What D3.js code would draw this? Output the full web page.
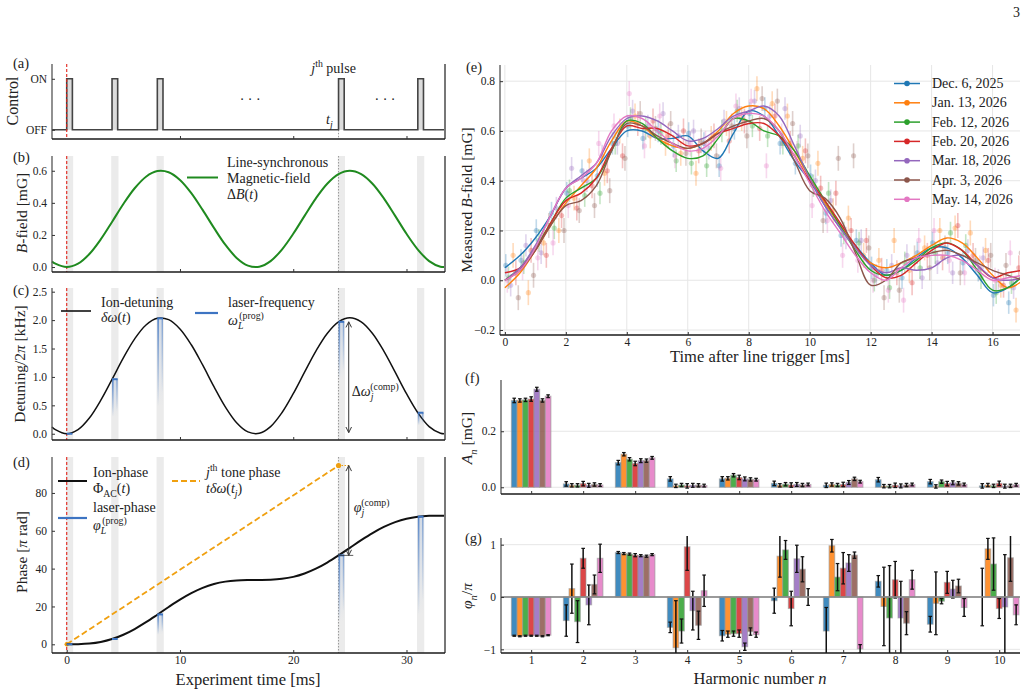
<!DOCTYPE html>
<html>
<head>
<meta charset="utf-8">
<script src="https://cdn.jsdelivr.net/npm/d3@7"></script>
<style>
  body { margin: 0; background: #fff; }
  svg text { font-family: "Liberation Serif", "DejaVu Serif", serif; fill: #222; }
</style>
</head>
<body>
<svg id="fig" width="1029" height="694"></svg>
<script>
// ---------------- data: left column (a)-(d) ----------------
var pulseStarts = [0, 4, 8, 24, 31];          // ms
var pulseWidth = 0.5;                          // ms
var controlTicks = [0, 1];
var controlLabels = ["OFF", "ON"];
var jPulseTime = 24;
var arrowTime = 24.9;

var timeGrid = [-1.3, -1, 0, 1, 2, 3, 4, 5, 6, 7, 8, 9, 10, 11, 12, 13, 14, 15, 16,
  17, 18, 19, 20, 21, 22, 23, 24, 25, 26, 27, 28, 29, 30, 31, 32, 33, 33.4];
var bField = [0.035, 0.021, 0.000, 0.021, 0.081, 0.172, 0.281, 0.393, 0.491, 0.563, 0.598,
  0.591, 0.543, 0.461, 0.356, 0.244, 0.139, 0.057, 0.009, 0.002, 0.037, 0.109, 0.207, 0.319,
  0.428, 0.519, 0.579, 0.600, 0.579, 0.519, 0.428, 0.319, 0.207, 0.109, 0.037, 0.002, 0.000];
var ionDetuning = [0.120, 0.072, 0.000, 0.072, 0.276, 0.586, 0.956, 1.335, 1.670, 1.914, 2.032,
  2.008, 1.845, 1.566, 1.211, 0.829, 0.474, 0.195, 0.032, 0.008, 0.126, 0.370, 0.705, 1.084,
  1.454, 1.764, 1.968, 2.040, 1.968, 1.764, 1.454, 1.084, 0.705, 0.370, 0.126, 0.008, 0.000];
var phaseTime = [0, 1, 2, 3, 4, 5, 6, 7, 8, 9, 10, 11, 12, 13, 14, 15, 16, 17, 18, 19, 20,
  21, 22, 23, 24, 25, 26, 27, 28, 29, 30, 31, 32, 33, 33.4];
var ionPhase = [0, 0.05, 0.38, 1.22, 2.76, 5.05, 8.07, 11.67, 15.64, 19.71, 23.58, 27.01,
  29.80, 31.84, 33.13, 33.78, 33.99, 34.00, 34.11, 34.59, 35.65, 37.44, 39.98, 43.22, 46.97,
  51.00, 55.03, 58.78, 62.02, 64.56, 66.35, 67.41, 67.89, 68.00, 68.00];

var laserFreq = [0.00, 0.96, 2.03, 1.97, 0.37];        // kHz at each pulse
var laserFreqFadeTo = [0.00, 0.30, 0.48, 0.95, 0.15];
var laserPhase = [0.0, 2.8, 15.8, 47.0, 67.5];         // pi rad at each pulse
var laserPhaseFadeTo = [0.0, 2.5, 5.0, 12.0, 15.5];
var toneTime = [0, 24];
var tonePhase = [0, 94.5];

// ---------------- data: (e) measured B-field ----------------
var dates = ["Dec. 6, 2025", "Jan. 13, 2026", "Feb. 12, 2026", "Feb. 20, 2026",
  "Mar. 18, 2026", "Apr. 3, 2026", "May. 14, 2026"];
var fitTime = [0, 0.5, 1, 1.5, 2, 2.5, 3, 3.5, 4, 4.5, 5, 5.5, 6, 6.5, 7, 7.5, 8, 8.5, 9,
  9.5, 10, 10.5, 11, 11.5, 12, 12.5, 13, 13.5, 14, 14.5, 15, 15.5, 16, 16.5, 17];
var fitDec06 = [0.05, 0.10, 0.17, 0.26, 0.37, 0.41, 0.45, 0.53, 0.60, 0.60, 0.57, 0.57, 0.58,
  0.52, 0.49, 0.59, 0.68, 0.66, 0.58, 0.48, 0.40, 0.30, 0.21, 0.14, 0.07, 0.02, 0.04, 0.09,
  0.13, 0.13, 0.09, 0.02, -0.05, -0.03, 0.02];
var fitJan13 = [-0.03, 0.03, 0.12, 0.22, 0.31, 0.38, 0.45, 0.56, 0.64, 0.62, 0.57, 0.54, 0.53,
  0.55, 0.60, 0.67, 0.70, 0.69, 0.62, 0.52, 0.41, 0.31, 0.22, 0.13, 0.07, 0.05, 0.07, 0.10,
  0.14, 0.17, 0.15, 0.09, 0.02, -0.03, 0.00];
var fitFeb12 = [0.00, 0.05, 0.13, 0.23, 0.33, 0.37, 0.41, 0.52, 0.64, 0.63, 0.57, 0.52, 0.49,
  0.50, 0.57, 0.65, 0.64, 0.60, 0.58, 0.52, 0.42, 0.32, 0.22, 0.12, 0.04, 0.02, 0.04, 0.08,
  0.13, 0.15, 0.12, 0.04, -0.04, -0.03, 0.02];
var fitFeb20 = [0.03, 0.05, 0.12, 0.23, 0.32, 0.35, 0.41, 0.53, 0.62, 0.61, 0.61, 0.58, 0.54,
  0.55, 0.59, 0.61, 0.63, 0.63, 0.58, 0.50, 0.40, 0.32, 0.23, 0.14, 0.06, 0.01, 0.02, 0.07,
  0.12, 0.15, 0.12, 0.06, 0.01, 0.03, 0.04];
var fitMar18 = [0.00, 0.05, 0.14, 0.26, 0.37, 0.42, 0.47, 0.58, 0.65, 0.66, 0.64, 0.60, 0.56,
  0.57, 0.61, 0.66, 0.68, 0.70, 0.66, 0.54, 0.41, 0.30, 0.21, 0.13, 0.06, 0.03, 0.05, 0.04,
  0.05, 0.09, 0.10, 0.06, 0.01, 0.00, 0.01];
var fitApr03 = [0.00, 0.04, 0.12, 0.22, 0.30, 0.32, 0.38, 0.52, 0.63, 0.62, 0.58, 0.55, 0.53,
  0.55, 0.59, 0.62, 0.64, 0.65, 0.60, 0.48, 0.36, 0.33, 0.25, 0.11, -0.02, 0.00, 0.07, 0.09,
  0.11, 0.12, 0.10, 0.07, 0.04, 0.02, 0.00];
var fitMay14 = [0.00, 0.04, 0.13, 0.26, 0.37, 0.41, 0.47, 0.60, 0.66, 0.65, 0.60, 0.55, 0.52,
  0.53, 0.58, 0.65, 0.67, 0.66, 0.60, 0.50, 0.39, 0.28, 0.19, 0.10, 0.03, 0.00, 0.05, 0.09,
  0.10, 0.10, 0.08, 0.04, 0.00, 0.01, 0.02];

var scatterShift = [0.03, 0.27, 0.12, 0.36, 0.19, 0.44, 0.08];   // ms
var scatterErr = [0.045, 0.05, 0.045, 0.05, 0.045, 0.05, 0.05];
var measDec06 = [0.06, 0.08, 0.20, 0.27, 0.35, 0.44, 0.42, 0.55, 0.62, 0.57, 0.60, 0.54, 0.59,
  0.55, 0.46, 0.61, 0.67, 0.69, 0.55, 0.47, 0.42, 0.27, 0.18, 0.16, 0.05, 0.04, 0.01, 0.11,
  0.15, 0.11, 0.07, 0.04, -0.06, -0.09, 0.03];
var measJan13 = [0.10, -0.05, 0.15, 0.20, 0.33, 0.48, 0.43, 0.60, 0.66, 0.58, 0.55, 0.51, 0.43,
  0.57, 0.63, 0.65, 0.77, 0.71, 0.66, 0.49, 0.47, 0.28, 0.25, 0.10, 0.08, 0.16, 0.04, 0.13,
  0.20, 0.21, 0.19, 0.12, -0.02, -0.12, 0.03];
var measFeb12 = [0.01, 0.07, 0.16, 0.21, 0.36, 0.34, 0.35, 0.55, 0.65, 0.61, 0.59, 0.48, 0.47,
  0.46, 0.60, 0.68, 0.62, 0.58, 0.55, 0.54, 0.38, 0.35, 0.19, 0.15, 0.00, -0.03, 0.07, 0.05,
  0.11, 0.19, 0.14, 0.01, -0.05, -0.01, 0.07];
var measFeb20 = [0.03, 0.12, 0.10, 0.26, 0.29, 0.38, 0.44, 0.50, 0.63, 0.64, 0.58, 0.60, 0.52,
  0.58, 0.56, 0.64, 0.61, 0.66, 0.55, 0.52, 0.37, 0.35, 0.20, 0.16, 0.04, 0.03, -0.01, 0.10,
  0.09, 0.22, 0.10, 0.08, -0.02, 0.05, 0.04];
var measMar18 = [-0.02, 0.14, 0.11, 0.29, 0.45, 0.40, 0.50, 0.55, 0.68, 0.62, 0.67, 0.58, 0.60,
  0.53, 0.64, 0.69, 0.72, 0.66, 0.69, 0.58, 0.40, 0.32, 0.17, 0.16, 0.02, 0.06, 0.10, 0.01,
  0.07, 0.03, 0.12, 0.09, 0.00, -0.03, 0.05];
var measApr03 = [-0.07, 0.02, 0.22, 0.20, 0.28, 0.30, 0.36, 0.49, 0.67, 0.61, 0.63, 0.51, 0.56,
  0.50, 0.62, 0.58, 0.73, 0.72, 0.63, 0.50, 0.24, 0.49, 0.50, 0.13, -0.07, -0.04, 0.09, 0.05,
  0.13, 0.03, 0.08, 0.10, 0.06, 0.11, 0.00];
var measMay14 = [0.00, 0.05, 0.09, 0.15, 0.30, 0.40, 0.55, 0.62, 0.75, 0.54, 0.66, 0.50, 0.55,
  0.55, 0.45, 0.70, 0.72, 0.46, 0.58, 0.51, 0.30, 0.24, 0.10, 0.08, 0.00, -0.04, -0.08, 0.16,
  0.20, 0.08, 0.03, 0.05, 0.00, 0.11, -0.05];

var fits = [fitDec06, fitJan13, fitFeb12, fitFeb20, fitMar18, fitApr03, fitMay14];
var meas = [measDec06, measJan13, measFeb12, measFeb20, measMar18, measApr03, measMay14];

// ---------------- data: (f) amplitudes, (g) phases ----------------
var harmonics = [1, 2, 3, 4, 5, 6, 7, 8, 9, 10];
var ampValues = [
  [0.310, 0.012, 0.088, 0.030, 0.030, 0.014, 0.007, 0.027, 0.020, 0.005],
  [0.310, 0.007, 0.118, 0.005, 0.032, 0.007, 0.010, 0.004, 0.003, 0.008],
  [0.312, 0.007, 0.100, 0.008, 0.043, 0.011, 0.008, 0.004, 0.020, 0.005],
  [0.315, 0.013, 0.085, 0.005, 0.035, 0.008, 0.010, 0.007, 0.013, 0.014],
  [0.350, 0.007, 0.095, 0.007, 0.030, 0.010, 0.017, 0.005, 0.016, 0.004],
  [0.310, 0.010, 0.095, 0.007, 0.028, 0.008, 0.030, 0.008, 0.014, 0.005],
  [0.325, 0.008, 0.105, 0.006, 0.027, 0.010, 0.020, 0.010, 0.010, 0.009]
];
var ampErr = [0.008, 0.006, 0.006, 0.008, 0.007, 0.006, 0.005];
var phaseValues = [
  [-0.74, -0.45, 0.85, -0.58, -0.74, -0.07, -0.65, 0.30, -0.52, 0.00],
  [-0.75, 0.16, 0.83, -0.97, -0.71, 0.78, 0.98, -0.18, -0.12, 0.92],
  [-0.74, -0.47, 0.82, -0.65, -0.70, 0.90, 0.38, -0.40, -0.08, 0.63],
  [-0.74, 0.74, 0.80, 0.96, -0.70, -0.22, 0.55, 0.33, 0.28, -0.22],
  [-0.74, -0.15, 0.79, -0.26, -0.95, 0.73, 0.65, -0.40, 0.15, -0.19],
  [-0.75, 0.24, 0.78, -0.54, -0.66, 0.53, 0.80, -0.50, 0.21, 0.75],
  [-0.73, 0.74, 0.81, 0.12, -0.72, 0.00, -0.99, 0.33, -0.20, -0.34]
];
var phaseErr = [
  [0.01, 0.30, 0.02, 0.10, 0.10, 0.24, 0.45, 0.11, 0.15, 0.55],
  [0.01, 0.47, 0.02, 0.90, 0.06, 0.40, 0.12, 0.75, 0.60, 0.20],
  [0.01, 0.40, 0.02, 0.23, 0.05, 0.18, 0.26, 1.00, 0.05, 0.50],
  [0.01, 0.19, 0.03, 0.45, 0.07, 0.33, 0.30, 0.35, 0.21, 0.19],
  [0.01, 0.38, 0.02, 0.37, 0.07, 0.26, 0.16, 0.70, 0.17, 1.00],
  [0.01, 0.18, 0.02, 0.27, 0.07, 0.24, 0.06, 0.22, 0.13, 0.45],
  [0.01, 0.27, 0.02, 0.30, 0.05, 0.16, 0.08, 0.18, 0.17, 0.19]
];

// ---------------- drawing ----------------
var colors = d3.schemeCategory10.slice(0, 7);
var BLUE = "#3d74c2";
var svg = d3.select("#fig");
svg.append("rect").attr("width", 1029).attr("height", 694).attr("fill", "#fff");
var defs = svg.append("defs");

var fade = defs.append("linearGradient").attr("id", "blueFade")
  .attr("x1", 0).attr("y1", 0).attr("x2", 0).attr("y2", 1);
fade.append("stop").attr("offset", 0).attr("stop-color", BLUE).attr("stop-opacity", 0.14);
fade.append("stop").attr("offset", 1).attr("stop-color", BLUE).attr("stop-opacity", 0);
var fadeLeg = defs.append("linearGradient").attr("id", "blueLeg")
  .attr("x1", 0).attr("y1", 0).attr("x2", 0).attr("y2", 1);
fadeLeg.append("stop").attr("offset", 0).attr("stop-color", BLUE).attr("stop-opacity", 0.8);
fadeLeg.append("stop").attr("offset", 1).attr("stop-color", BLUE).attr("stop-opacity", 0);

defs.append("marker").attr("id", "arrow").attr("viewBox", "0 0 10 10")
  .attr("refX", 9).attr("refY", 5).attr("markerWidth", 7).attr("markerHeight", 7)
  .attr("orient", "auto-start-reverse")
  .append("path").attr("d", "M1,1 L9,5 L1,9").attr("fill", "none").attr("stroke", "#333").attr("stroke-width", 1.4);

function rich(g, x, y, parts, o) {
  o = o || {};
  var fs = o.size || 14;
  var t = g.append("text").attr("x", x).attr("y", y)
    .style("font-size", fs + "px")
    .attr("text-anchor", o.anchor || "start");
  if (o.rotate) t.attr("transform", "rotate(-90," + x + "," + y + ")");
  var shift = 0;
  parts.forEach(function (p) {
    var kind = p[1] || "";
    var s = t.append("tspan").text(p[0]);
    var target = 0;
    if (kind.indexOf("sub") >= 0) target = 0.3;
    if (kind.indexOf("sup") >= 0) target = -0.42;
    var dy = (target - shift) * fs;
    if (dy) s.attr("dy", dy);
    shift = target;
    if (target) s.style("font-size", (fs * 0.7) + "px");
    if (kind === "i" || kind === "subi" || kind === "supi") s.style("font-style", "italic");
    if (p[2]) s.attr("dx", p[2]);
  });
  return t;
}

function spines(g, x0, x1, top, bottom, right) {
  g.append("line").attr("x1", x0).attr("x2", x0).attr("y1", top).attr("y2", bottom)
    .attr("stroke", "#555").attr("stroke-width", 1.3);
  if (right) g.append("line").attr("x1", x1).attr("x2", x1).attr("y1", top).attr("y2", bottom)
    .attr("stroke", "#777").attr("stroke-width", 2);
  g.append("line").attr("x1", x0).attr("x2", x1).attr("y1", bottom).attr("y2", bottom)
    .attr("stroke", "#1a1a1a").attr("stroke-width", 1.6);
}

function yAxis(g, y, x0, ticks, fmt) {
  var a = g.append("g").attr("transform", "translate(" + x0 + ",0)")
    .call(d3.axisLeft(y).tickValues(ticks).tickFormat(fmt).tickSize(-3).tickPadding(5));
  a.select(".domain").remove();
  a.selectAll("text").style("font-size", "11.5px");
  a.selectAll("line").attr("stroke", "#333");
  return a;
}

function xAxis(g, x, yPos, ticks, fmt, withLabels) {
  var a = g.append("g").attr("transform", "translate(0," + yPos + ")")
    .call(d3.axisBottom(x).tickValues(ticks).tickFormat(withLabels ? fmt : "").tickSize(-3).tickPadding(3));
  a.select(".domain").remove();
  a.selectAll("text").style("font-size", "11.5px");
  a.selectAll("line").attr("stroke", "#333");
  return a;
}

function clip(id, x0, x1, top, bottom) {
  defs.append("clipPath").attr("id", id).append("rect")
    .attr("x", x0).attr("y", top).attr("width", x1 - x0).attr("height", bottom - top);
  return "url(#" + id + ")";
}

// left column geometry
var LX0 = 52, LX1 = 445;
var xL = d3.scaleLinear().domain([-1.3, 33.4]).range([LX0, LX1]);
var PA = { top: 64, bottom: 139 }, PB = { top: 156, bottom: 272 },
    PC = { top: 288, bottom: 440 }, PD = { top: 457, bottom: 653 };
var yA = d3.scaleLinear().domain([-0.18, 1.29]).range([PA.bottom, PA.top]);
var yB = d3.scaleLinear().domain([-0.031, 0.692]).range([PB.bottom, PB.top]);
var yC = d3.scaleLinear().domain([-0.11, 2.565]).range([PC.bottom, PC.top]);
var yD = d3.scaleLinear().domain([-4.6, 99]).range([PD.bottom, PD.top]);

function bands(g, P) {
  g.selectAll(".band").data(pulseStarts).enter().append("rect")
    .attr("x", function (d) { return xL(d - 0.07); })
    .attr("width", xL(pulseWidth + 0.14) - xL(0))
    .attr("y", P.top).attr("height", P.bottom - P.top)
    .attr("fill", "#ebebeb");
}
function markers(g, P) {
  g.append("line").attr("x1", xL(jPulseTime)).attr("x2", xL(jPulseTime))
    .attr("y1", P.top).attr("y2", P.bottom)
    .attr("stroke", "#999").attr("stroke-width", 1).attr("stroke-dasharray", "1.5,1.5");
  g.append("line").attr("x1", xL(0)).attr("x2", xL(0))
    .attr("y1", P.top).attr("y2", P.bottom)
    .attr("stroke", "#e2231a").attr("stroke-width", 1.1).attr("stroke-dasharray", "3,2");
}
var smooth = d3.curveCatmullRom.alpha(0.5);

// ---- (a) control ----
var gA = svg.append("g");
gA.append("line").attr("x1", xL(jPulseTime)).attr("x2", xL(jPulseTime))
  .attr("y1", yA(0)).attr("y2", PA.bottom)
  .attr("stroke", "#999").attr("stroke-dasharray", "1.5,1.5");
gA.selectAll(".pulse").data(pulseStarts).enter().append("rect")
  .attr("x", function (d) { return xL(d); }).attr("width", xL(pulseWidth) - xL(0))
  .attr("y", yA(1)).attr("height", yA(0) - yA(1)).attr("fill", "#dcdcdc");
var stepPts = [[xL.domain()[0], 0]];
pulseStarts.forEach(function (s) {
  stepPts.push([s, 0], [s, 1], [s + pulseWidth, 1], [s + pulseWidth, 0]);
});
stepPts.push([xL.domain()[1], 0]);
gA.append("path").datum(stepPts)
  .attr("d", d3.line().x(function (d) { return xL(d[0]); }).y(function (d) { return yA(d[1]); }))
  .attr("fill", "none").attr("stroke", "#444").attr("stroke-width", 1.6);
spines(gA, LX0, LX1, PA.top, PA.bottom, true);
yAxis(gA, yA, LX0, controlTicks, function (d, i) { return controlLabels[i]; });
xAxis(gA, xL, PA.bottom, [10, 20, 30], null, false);
gA.append("line").attr("x1", xL(0)).attr("x2", xL(0)).attr("y1", PA.top).attr("y2", PA.bottom)
  .attr("stroke", "#e2231a").attr("stroke-width", 1.1).attr("stroke-dasharray", "3,2");
rich(gA, xL(21.6), yA(1.12), [["j", "i"], ["th", "sup"], [" pulse", ""]], { size: 14 });
rich(gA, xL(22.9), yA(0.11), [["t", "i"], ["j", "subi"]], { size: 14 });
rich(gA, xL(16.2), yA(0.5), [["· · ·", ""]], { size: 14, anchor: "middle" });
rich(gA, xL(28.1), yA(0.5), [["· · ·", ""]], { size: 14, anchor: "middle" });

// ---- (b) B-field ----
var gB = svg.append("g");
bands(gB, PB);
markers(gB, PB);
gB.append("path").datum(timeGrid.map(function (t, i) { return [t, bField[i]]; }))
  .attr("d", d3.line().curve(smooth).x(function (d) { return xL(d[0]); }).y(function (d) { return yB(d[1]); }))
  .attr("fill", "none").attr("stroke", "#1f8a1f").attr("stroke-width", 2);
spines(gB, LX0, LX1, PB.top, PB.bottom, true);
yAxis(gB, yB, LX0, [0, 0.2, 0.4, 0.6], d3.format(".1f"));
xAxis(gB, xL, PB.bottom, [10, 20, 30], null, false);
gB.append("line").attr("x1", 187).attr("x2", 218).attr("y1", 177.5).attr("y2", 177.5)
  .attr("stroke", "#1f8a1f").attr("stroke-width", 2);
rich(gB, 227, 167, [["Line-synchronous", ""]]);
rich(gB, 227, 182.5, [["Magnetic-field", ""]]);
rich(gB, 227, 198.5, [["Δ", ""], ["B", "i"], ["(", ""], ["t", "i"], [")", ""]]);

// ---- (c) detuning ----
var gC = svg.append("g");
bands(gC, PC);
markers(gC, PC);
gC.append("path").datum(timeGrid.map(function (t, i) { return [t, ionDetuning[i]]; }))
  .attr("d", d3.line().curve(smooth).x(function (d) { return xL(d[0]); }).y(function (d) { return yC(d[1]); }))
  .attr("fill", "none").attr("stroke", "#111").attr("stroke-width", 1.5);

function laserMarks(g, y, vals, fadeTo) {
  pulseStarts.forEach(function (s, i) {
    var xa = xL(s), xb = xL(s + pulseWidth), ya = y(vals[i]), yb = y(fadeTo[i]);
    if (yb - ya > 1) {
      g.append("rect").attr("x", xa).attr("width", xb - xa).attr("y", ya).attr("height", yb - ya)
        .attr("fill", "url(#blueFade)");
      g.append("rect").attr("x", xa).attr("width", 1.6).attr("y", ya).attr("height", yb - ya)
        .attr("fill", "url(#blueLeg)");
      g.append("rect").attr("x", xb - 1.4).attr("width", 1.4).attr("y", ya).attr("height", (yb - ya) * 0.85)
        .attr("fill", "url(#blueLeg)").attr("opacity", 0.7);
    }
    g.append("line").attr("x1", xa).attr("x2", xb).attr("y1", ya).attr("y2", ya)
      .attr("stroke", BLUE).attr("stroke-width", 2);
  });
}
laserMarks(gC, yC, laserFreq, laserFreqFadeTo);
spines(gC, LX0, LX1, PC.top, PC.bottom, true);
yAxis(gC, yC, LX0, [0, 0.5, 1, 1.5, 2, 2.5], d3.format(".1f"));
xAxis(gC, xL, PC.bottom, [10, 20, 30], null, false);
gC.append("line").attr("x1", xL(arrowTime)).attr("x2", xL(arrowTime))
  .attr("y1", yC(laserFreq[3])).attr("y2", yC(0.02))
  .attr("stroke", "#333").attr("stroke-width", 1)
  .attr("marker-start", "url(#arrow)").attr("marker-end", "url(#arrow)");
rich(gC, xL(arrowTime) + 3, 396, [["Δ", ""], ["ω", "i"], ["j", "subi"], ["(comp)", "sup", -3]]);
gC.append("line").attr("x1", 61).attr("x2", 91).attr("y1", 311).attr("y2", 311)
  .attr("stroke", "#111").attr("stroke-width", 1.6);
rich(gC, 101, 307, [["Ion-detuning", ""]]);
rich(gC, 101, 321.5, [["δω", "i"], ["(", ""], ["t", "i"], [")", ""]]);
gC.append("line").attr("x1", 195).attr("x2", 218).attr("y1", 313).attr("y2", 313)
  .attr("stroke", BLUE).attr("stroke-width", 2.2);
rich(gC, 228, 307, [["laser-frequency", ""]]);
rich(gC, 228, 325, [["ω", "i"], ["L", "subi"], ["(prog)", "sup", -4]]);

// ---- (d) phase ----
var gD = svg.append("g");
bands(gD, PD);
markers(gD, PD);
gD.append("path").datum(toneTime.map(function (t, i) { return [t, tonePhase[i]]; }))
  .attr("d", d3.line().x(function (d) { return xL(d[0]); }).y(function (d) { return yD(d[1]); }))
  .attr("fill", "none").attr("stroke", "#f0a010").attr("stroke-width", 1.8).attr("stroke-dasharray", "6,3");
gD.append("line").attr("x1", xL(toneTime[1])).attr("x2", xL(toneTime[1] + 1))
  .attr("y1", yD(tonePhase[1])).attr("y2", yD(tonePhase[1]))
  .attr("stroke", "#f0a010").attr("stroke-width", 1).attr("stroke-dasharray", "1.5,1.5");
gD.append("circle").attr("cx", xL(toneTime[1])).attr("cy", yD(tonePhase[1])).attr("r", 2.6).attr("fill", "#f0a010");
gD.append("circle").attr("cx", xL(toneTime[0])).attr("cy", yD(tonePhase[0])).attr("r", 2.2).attr("fill", "#f0a010");
gD.append("path").datum(phaseTime.map(function (t, i) { return [t, ionPhase[i]]; }))
  .attr("d", d3.line().curve(smooth).x(function (d) { return xL(d[0]); }).y(function (d) { return yD(d[1]); }))
  .attr("fill", "none").attr("stroke", "#111").attr("stroke-width", 2);
laserMarks(gD, yD, laserPhase, laserPhaseFadeTo);
gD.append("line").attr("x1", xL(jPulseTime)).attr("x2", xL(arrowTime + 0.4))
  .attr("y1", yD(laserPhase[3])).attr("y2", yD(laserPhase[3]))
  .attr("stroke", "#333").attr("stroke-width", 0.8);
gD.append("line").attr("x1", xL(arrowTime)).attr("x2", xL(arrowTime))
  .attr("y1", yD(tonePhase[1])).attr("y2", yD(laserPhase[3]))
  .attr("stroke", "#333").attr("stroke-width", 1)
  .attr("marker-start", "url(#arrow)").attr("marker-end", "url(#arrow)");
rich(gD, xL(arrowTime) + 5, 512, [["φ", "i"], ["j", "subi"], ["(comp)", "sup", -3]]);
spines(gD, LX0, LX1, PD.top, PD.bottom, true);
yAxis(gD, yD, LX0, [0, 20, 40, 60, 80], d3.format("d"));
xAxis(gD, xL, PD.bottom, [0, 10, 20, 30], d3.format("d"), true);
gD.append("line").attr("x1", 58).attr("x2", 87).attr("y1", 481).attr("y2", 481)
  .attr("stroke", "#111").attr("stroke-width", 2);
rich(gD, 93, 477, [["Ion-phase", ""]]);
rich(gD, 93, 493, [["Φ", ""], ["AC", "sub"], ["(", ""], ["t", "i"], [")", ""]]);
gD.append("line").attr("x1", 172).attr("x2", 200).attr("y1", 481).attr("y2", 481)
  .attr("stroke", "#f0a010").attr("stroke-width", 1.8).attr("stroke-dasharray", "6,3");
rich(gD, 206, 477, [["j", "i"], ["th", "sup"], [" tone phase", ""]]);
rich(gD, 206, 493, [["tδω", "i"], ["(", ""], ["t", "i"], ["j", "subi"], [")", ""]]);
gD.append("line").attr("x1", 58).attr("x2", 87).attr("y1", 518).attr("y2", 518)
  .attr("stroke", BLUE).attr("stroke-width", 2.2);
rich(gD, 93, 512, [["laser-phase", ""]]);
rich(gD, 93, 530, [["φ", "i"], ["L", "subi"], ["(prog)", "sup", -4]]);

// left labels
var gL = svg.append("g");
rich(gL, 13, 68, [["(a)", ""]], { size: 14.5 });
rich(gL, 13, 162, [["(b)", ""]], { size: 14.5 });
rich(gL, 13, 295, [["(c)", ""]], { size: 14.5 });
rich(gL, 13, 467, [["(d)", ""]], { size: 14.5 });
rich(gL, 18, 101, [["Control", ""]], { size: 16, anchor: "middle", rotate: true });
rich(gL, 27, 213, [["B", "i"], ["-field [mG]", ""]], { size: 15.5, anchor: "middle", rotate: true });
rich(gL, 25, 364, [["Detuning/2", ""], ["π", "i"], [" [kHz]", ""]], { size: 15.5, anchor: "middle", rotate: true });
rich(gL, 27, 552, [["Phase [", ""], ["π", "i"], [" rad]", ""]], { size: 15.5, anchor: "middle", rotate: true });
rich(gL, 248, 685, [["Experiment time [ms]", ""]], { size: 16.5, anchor: "middle" });

// ---- (e) measured B-field ----
var RX0 = 500, RX1 = 1020;
var PE = { top: 65, bottom: 335 };
var xE = d3.scaleLinear().domain([-0.16, 16.9]).range([RX0, RX1]);
var yE = d3.scaleLinear().domain([-0.22, 0.865]).range([PE.bottom, PE.top]);
var gE = svg.append("g");
var eTicksX = [0, 2, 4, 6, 8, 10, 12, 14, 16], eTicksY = [-0.2, 0, 0.2, 0.4, 0.6, 0.8];
gE.selectAll(".gx").data(eTicksX).enter().append("line")
  .attr("x1", function (d) { return xE(d); }).attr("x2", function (d) { return xE(d); })
  .attr("y1", PE.top).attr("y2", PE.bottom).attr("stroke", "#e6e6e6");
gE.selectAll(".gy").data(eTicksY).enter().append("line")
  .attr("y1", function (d) { return yE(d); }).attr("y2", function (d) { return yE(d); })
  .attr("x1", RX0).attr("x2", RX1).attr("stroke", "#e6e6e6");
var gEc = gE.append("g").attr("clip-path", clip("clipE", RX0, RX1, PE.top, PE.bottom));
meas.forEach(function (vals, s) {
  var pts = fitTime.map(function (t, k) { return [t + scatterShift[s], vals[k]]; });
  gEc.selectAll(".eb" + s).data(pts).enter().append("line")
    .attr("x1", function (d) { return xE(d[0]); }).attr("x2", function (d) { return xE(d[0]); })
    .attr("y1", function (d) { return yE(d[1] - scatterErr[s]); })
    .attr("y2", function (d) { return yE(d[1] + scatterErr[s]); })
    .attr("stroke", colors[s]).attr("stroke-opacity", 0.28).attr("stroke-width", 1.6);
  gEc.selectAll(".pt" + s).data(pts).enter().append("circle")
    .attr("cx", function (d) { return xE(d[0]); }).attr("cy", function (d) { return yE(d[1]); })
    .attr("r", 2.6).attr("fill", colors[s]).attr("fill-opacity", 0.3);
});
fits.forEach(function (vals, s) {
  gEc.append("path").datum(fitTime.map(function (t, k) { return [t, vals[k]]; }))
    .attr("d", d3.line().curve(smooth).x(function (d) { return xE(d[0]); }).y(function (d) { return yE(d[1]); }))
    .attr("fill", "none").attr("stroke", colors[s]).attr("stroke-width", 1.4);
});
spines(gE, RX0, RX1, PE.top, PE.bottom, false);
yAxis(gE, yE, RX0, eTicksY, d3.format(".1f"));
xAxis(gE, xE, PE.bottom, eTicksX, d3.format("d"), true);
dates.forEach(function (d, s) {
  var ly = 83.5 + s * 19.3;
  gE.append("line").attr("x1", 894).attr("x2", 920).attr("y1", ly).attr("y2", ly)
    .attr("stroke", colors[s]).attr("stroke-width", 1.5);
  gE.append("circle").attr("cx", 907).attr("cy", ly).attr("r", 2.8).attr("fill", colors[s]);
  rich(gE, 932, ly + 4.5, [[d, ""]], { size: 14 });
});
rich(gE, 466, 72, [["(e)", ""]], { size: 14.5 });
rich(gE, 472, 200, [["Measured ", ""], ["B", "i"], ["-field [mG]", ""]], { size: 15.5, anchor: "middle", rotate: true });
rich(gE, 760, 362, [["Time after line trigger [ms]", ""]], { size: 16.5, anchor: "middle" });

// ---- (f) amplitudes ----
var HX0 = 501;
var xH = d3.scaleLinear().domain([0.42, 10.4]).range([HX0, RX1]);
var off = d3.scaleBand().domain(d3.range(dates.length)).range([-0.38, 0.38]);
var bw = xH(off.bandwidth()) - xH(0);
var PF = { top: 380, bottom: 494 }, PG = { top: 538, bottom: 653 };
var yF = d3.scaleLinear().domain([-0.024, 0.383]).range([PF.bottom, PF.top]);
var yG = d3.scaleLinear().domain([-1.07, 1.128]).range([PG.bottom, PG.top]);

function barPanel(g, y, vals, errFn, clipId, P) {
  var gc = g.append("g").attr("clip-path", clip(clipId, HX0, RX1, P.top - 2, P.bottom));
  vals.forEach(function (row, s) {
    harmonics.forEach(function (n, k) {
      var v = row[k], bx = xH(n + off(s));
      gc.append("rect").attr("x", bx).attr("width", bw)
        .attr("y", Math.min(y(v), y(0))).attr("height", Math.abs(y(v) - y(0)))
        .attr("fill", colors[s]).attr("fill-opacity", 0.85)
        .attr("stroke", "#999").attr("stroke-opacity", 0.6).attr("stroke-width", 1.1);
    });
  });
  vals.forEach(function (row, s) {
    harmonics.forEach(function (n, k) {
      var v = row[k], e = errFn(s, k), cx = xH(n + off(s)) + bw / 2;
      gc.append("line").attr("x1", cx).attr("x2", cx).attr("y1", y(v - e)).attr("y2", y(v + e))
        .attr("stroke", "#111").attr("stroke-width", 1.5);
      [v - e, v + e].forEach(function (c) {
        gc.append("line").attr("x1", cx - 1.8).attr("x2", cx + 1.8).attr("y1", y(c)).attr("y2", y(c))
          .attr("stroke", "#111").attr("stroke-width", 1.2);
      });
    });
  });
}

var gF = svg.append("g");
gF.append("line").attr("x1", HX0).attr("x2", RX1).attr("y1", yF(0.2)).attr("y2", yF(0.2)).attr("stroke", "#e6e6e6");
gF.append("line").attr("x1", HX0).attr("x2", RX1).attr("y1", yF(0)).attr("y2", yF(0)).attr("stroke", "#e6e6e6");
barPanel(gF, yF, ampValues, function (s) { return ampErr[s]; }, "clipF", PF);
spines(gF, HX0, RX1, PF.top, PF.bottom, false);
yAxis(gF, yF, HX0, [0, 0.2], d3.format(".1f"));
xAxis(gF, xH, PF.bottom, harmonics, null, false);
rich(gF, 465, 383, [["(f)", ""]], { size: 14.5 });
rich(gF, 472, 438, [["A", "i"], ["n", "subi"], [" [mG]", ""]], { size: 15.5, anchor: "middle", rotate: true });

// ---- (g) phases ----
var gG = svg.append("g");
[-1, 1].forEach(function (v) {
  gG.append("line").attr("x1", HX0).attr("x2", RX1).attr("y1", yG(v)).attr("y2", yG(v)).attr("stroke", "#e6e6e6");
});
barPanel(gG, yG, phaseValues, function (s, k) { return phaseErr[s][k]; }, "clipG", PG);
gG.append("line").attr("x1", HX0).attr("x2", RX1).attr("y1", yG(0)).attr("y2", yG(0))
  .attr("stroke", "#888").attr("stroke-width", 2).attr("stroke-opacity", 0.85);
spines(gG, HX0, RX1, PG.top, PG.bottom, false);
yAxis(gG, yG, HX0, [-1, 0, 1], d3.format("d"));
xAxis(gG, xH, PG.bottom, harmonics, d3.format("d"), true);
rich(gG, 465, 543, [["(g)", ""]], { size: 14.5 });
rich(gG, 472, 596, [["φ", "i"], ["n", "subi"], ["/", ""], ["π", "i"]], { size: 15.5, anchor: "middle", rotate: true });
rich(gG, 760, 684, [["Harmonic number ", ""], ["n", "i"]], { size: 16.5, anchor: "middle" });

// page number
rich(svg, 1020, 17, [["3", ""]], { size: 14, anchor: "end" });
</script>
</body>
</html>
